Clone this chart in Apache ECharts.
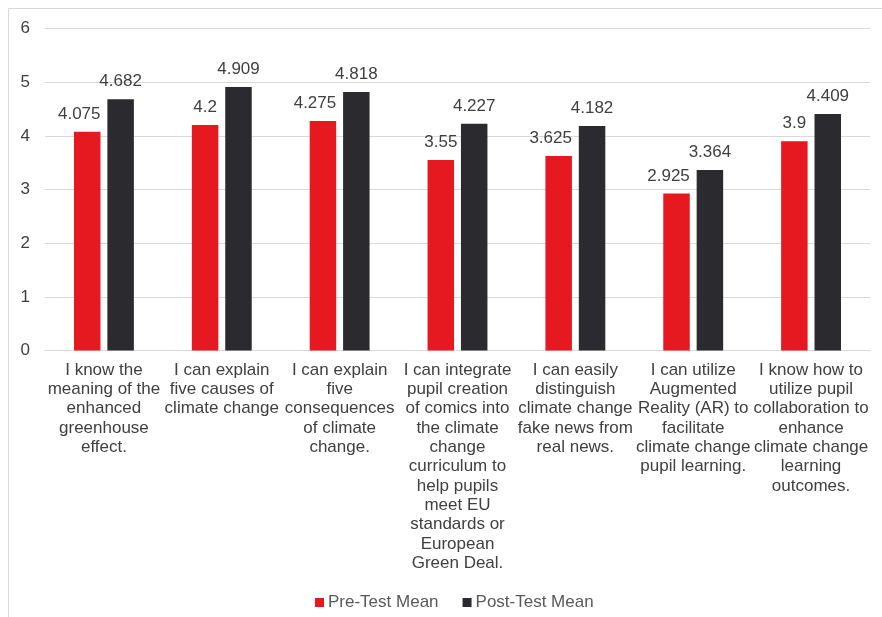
<!DOCTYPE html>
<html>
<head>
<meta charset="utf-8">
<script src="https://cdn.jsdelivr.net/npm/echarts@6/dist/echarts.min.js"></script>
<style>
  html, body { margin: 0; padding: 0; background: #fff; }
  #chart { width: 882px; height: 617px; }
</style>
</head>
<body>
<div id="chart"></div>
<script>
// Survey statements (wrapped as shown under each group)
const categories = [
  'I know the\nmeaning of the\nenhanced\ngreenhouse\neffect.',
  'I can explain\nfive causes of\nclimate change',
  'I can explain\nfive\nconsequences\nof climate\nchange.',
  'I can integrate\npupil creation\nof comics into\nthe climate\nchange\ncurriculum to\nhelp pupils\nmeet EU\nstandards or\nEuropean\nGreen Deal.',
  'I can easily\ndistinguish\nclimate change\nfake news from\nreal news.',
  'I can utilize\nAugmented\nReality (AR) to\nfacilitate\nclimate change\npupil learning.',
  'I know how to\nutilize pupil\ncollaboration to\nenhance\nclimate change\nlearning\noutcomes.'
];
const preTestMean = [4.075, 4.2, 4.275, 3.55, 3.625, 2.925, 3.9];
const postTestMean = [4.682, 4.909, 4.818, 4.227, 4.182, 3.364, 4.409];
const seriesNames = ['Pre-Test Mean', 'Post-Test Mean'];

const FONT = 'Liberation Sans, Arial, sans-serif';
const RED = '#E5191F';
const DARK = '#2B2A2F';
const FS = 17;

// Longer red labels sit slightly left so they clear the neighbouring label
const preData = preTestMean.map(v => {
  const s = String(v);
  return s.length >= 5 ? { value: v, label: { offset: [-8, 0] } } : v;
});

const chart = echarts.init(document.getElementById('chart'), null, { renderer: 'canvas' });

const valueLabel = {
  show: true,
  position: 'top',
  distance: 9,
  color: '#404040',
  fontFamily: FONT,
  fontSize: FS
};

chart.setOption({
  animation: false,
  backgroundColor: '#ffffff',
  graphic: [{
    type: 'rect',
    shape: { x: 8.5, y: 8.5, width: 900, height: 700 },
    style: { fill: 'none', stroke: '#d9d9d9', lineWidth: 1 },
    silent: true,
    z: -1
  }],
  grid: { left: 45, right: 12, top: 28.5, bottom: 266.5, containLabel: false },
  legend: {
    data: seriesNames,
    bottom: 1,
    left: 310,
    itemWidth: 9,
    itemHeight: 9,
    itemGap: 24,
    icon: 'rect',
    textStyle: { color: '#595959', fontFamily: FONT, fontSize: FS, padding: [0, 0, 0, -1] }
  },
  xAxis: {
    type: 'category',
    data: categories,
    axisLine: { show: true, lineStyle: { color: '#d9d9d9', width: 1 } },
    axisTick: { show: false },
    axisLabel: {
      interval: 0,
      color: '#404040',
      fontFamily: FONT,
      fontSize: FS,
      lineHeight: 19.3,
      margin: 10,
      align: 'center',
      verticalAlign: 'top'
    }
  },
  yAxis: {
    type: 'value',
    min: 0,
    max: 6,
    interval: 1,
    axisLine: { show: false },
    axisTick: { show: false },
    splitLine: { lineStyle: { color: '#d9d9d9', width: 1 } },
    axisLabel: {
      color: '#404040',
      fontFamily: FONT,
      fontSize: FS,
      margin: 15
    }
  },
  series: [
    {
      name: seriesNames[0],
      type: 'bar',
      data: preData,
      barWidth: 26.5,
      barGap: '26%',
      itemStyle: { color: RED },
      label: valueLabel
    },
    {
      name: seriesNames[1],
      type: 'bar',
      data: postTestMean,
      barWidth: 26.5,
      itemStyle: { color: DARK },
      label: valueLabel
    }
  ]
});
</script>
</body>
</html>
